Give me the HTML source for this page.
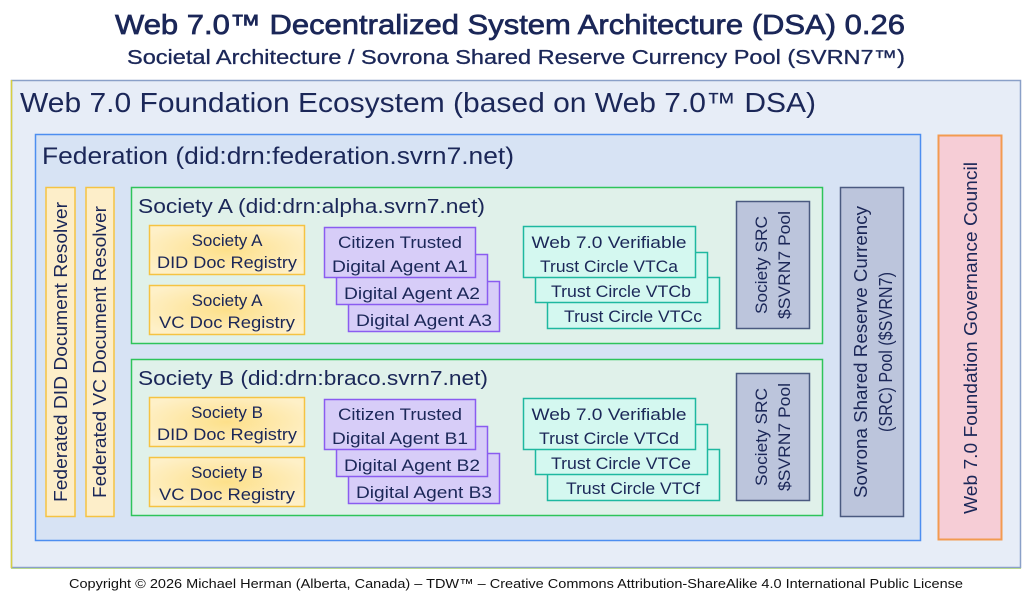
<!DOCTYPE html>
<html><head><meta charset="utf-8"><style>
html,body{margin:0;padding:0;background:#fff;width:1023px;height:601px;overflow:hidden}
svg{display:block}
text{font-family:"Liberation Sans",sans-serif;fill:#1b2758}
</style></head><body>
<svg width="1023" height="601" viewBox="0 0 1023 601" xmlns="http://www.w3.org/2000/svg">
<defs>
<radialGradient id="yg" cx="50%" cy="50%" r="60%"><stop offset="0" stop-color="#fde08a"/><stop offset="1" stop-color="#fef0c8"/></radialGradient>
</defs>
<text x="510" y="34" font-size="28" text-anchor="middle" textLength="790" lengthAdjust="spacingAndGlyphs" style="stroke:#1b2758;stroke-width:0.7">Web 7.0™ Decentralized System Architecture (DSA) 0.26</text>
<text x="516" y="64" font-size="20" text-anchor="middle" textLength="778" lengthAdjust="spacingAndGlyphs" style="stroke:#1b2758;stroke-width:0.3">Societal Architecture / Sovrona Shared Reserve Currency Pool (SVRN7™)</text>

<rect x="11.5" y="80.5" width="1009" height="487" fill="#e7edf7" stroke="#8aa0c8" stroke-width="1.5"/>
<line x1="11.5" y1="80" x2="11.5" y2="568" stroke="#d8d040" stroke-width="1.5"/>
<line x1="11" y1="568.5" x2="1021" y2="568.5" stroke="#b8d890" stroke-width="1"/>
<text x="20" y="112" font-size="28" textLength="796" lengthAdjust="spacingAndGlyphs">Web 7.0 Foundation Ecosystem (based on Web 7.0™ DSA)</text>

<rect x="35.5" y="134.5" width="885" height="406" fill="#d7e3f4" stroke="#4d8ef0" stroke-width="1.5"/>
<text x="42" y="164" font-size="24" textLength="472" lengthAdjust="spacingAndGlyphs">Federation (did:drn:federation.svrn7.net)</text>

<rect x="938.5" y="135.5" width="63" height="404" fill="#f6cdd6" stroke="#f39a50" stroke-width="2"/>
<text transform="translate(977,338) rotate(-90)" font-size="18" text-anchor="middle" textLength="352" lengthAdjust="spacingAndGlyphs">Web 7.0 Foundation Governance Council</text>

<rect x="840.5" y="187.5" width="63" height="329" fill="#bcc5dc" stroke="#4a5a80" stroke-width="1.5"/>
<text transform="translate(867,352) rotate(-90)" font-size="18" text-anchor="middle" textLength="292" lengthAdjust="spacingAndGlyphs">Sovrona Shared Reserve Currency</text>
<text transform="translate(892,352) rotate(-90)" font-size="18" text-anchor="middle" textLength="160" lengthAdjust="spacingAndGlyphs">(SRC) Pool ($SVRN7)</text>

<rect x="46" y="187.5" width="29" height="329" fill="#fdeec9" stroke="#f5c342" stroke-width="1.5"/>
<text transform="translate(67,352) rotate(-90)" font-size="18" text-anchor="middle" textLength="300" lengthAdjust="spacingAndGlyphs">Federated DID Document Resolver</text>
<rect x="86" y="187.5" width="28" height="329" fill="#fdeec9" stroke="#f5c342" stroke-width="1.5"/>
<text transform="translate(106,352) rotate(-90)" font-size="18" text-anchor="middle" textLength="292" lengthAdjust="spacingAndGlyphs">Federated VC Document Resolver</text>

<!-- Society A -->
<g>
<rect x="131.5" y="187.5" width="691" height="156" fill="#e0f1ea" stroke="#2ec45a" stroke-width="1.5"/>
<text x="138" y="213" font-size="20" textLength="347" lengthAdjust="spacingAndGlyphs">Society A (did:drn:alpha.svrn7.net)</text>
<rect x="149.5" y="225.5" width="155" height="49" fill="url(#yg)" stroke="#f5c342" stroke-width="1.5"/>
<text x="227" y="246" font-size="17" text-anchor="middle">Society A</text>
<text x="227" y="268" font-size="17" text-anchor="middle" textLength="140" lengthAdjust="spacingAndGlyphs">DID Doc Registry</text>
<rect x="149.5" y="285.5" width="155" height="49" fill="url(#yg)" stroke="#f5c342" stroke-width="1.5"/>
<text x="227" y="306" font-size="17" text-anchor="middle">Society A</text>
<text x="227" y="328" font-size="17" text-anchor="middle" textLength="136" lengthAdjust="spacingAndGlyphs">VC Doc Registry</text>

<rect x="348.5" y="281.5" width="151" height="50" fill="#d7cdf8" stroke="#8a5cf0" stroke-width="1.5"/>
<text x="424" y="326" font-size="17" text-anchor="middle" textLength="136" lengthAdjust="spacingAndGlyphs">Digital Agent A3</text>
<rect x="336.5" y="254.5" width="151" height="50" fill="#d7cdf8" stroke="#8a5cf0" stroke-width="1.5"/>
<text x="412" y="299" font-size="17" text-anchor="middle" textLength="136" lengthAdjust="spacingAndGlyphs">Digital Agent A2</text>
<rect x="324.5" y="227.5" width="151" height="50" fill="#d7cdf8" stroke="#8a5cf0" stroke-width="1.5"/>
<text x="400" y="248" font-size="17" text-anchor="middle" textLength="124" lengthAdjust="spacingAndGlyphs">Citizen Trusted</text>
<text x="400" y="272" font-size="17" text-anchor="middle" textLength="136" lengthAdjust="spacingAndGlyphs">Digital Agent A1</text>

<rect x="547.5" y="277.5" width="172" height="51" fill="#d4f8f0" stroke="#1eb8a0" stroke-width="1.5"/>
<text x="633" y="322" font-size="17" text-anchor="middle" textLength="138" lengthAdjust="spacingAndGlyphs">Trust Circle VTCc</text>
<rect x="535.5" y="252.5" width="172" height="50" fill="#d4f8f0" stroke="#1eb8a0" stroke-width="1.5"/>
<text x="621" y="297" font-size="17" text-anchor="middle" textLength="140" lengthAdjust="spacingAndGlyphs">Trust Circle VTCb</text>
<rect x="523.5" y="226.5" width="172" height="51" fill="#d4f8f0" stroke="#1eb8a0" stroke-width="1.5"/>
<text x="609" y="248" font-size="17" text-anchor="middle" textLength="155" lengthAdjust="spacingAndGlyphs">Web 7.0 Verifiable</text>
<text x="609" y="272" font-size="17" text-anchor="middle" textLength="138" lengthAdjust="spacingAndGlyphs">Trust Circle VTCa</text>

<rect x="736.5" y="201.5" width="73" height="127" fill="#bcc5dc" stroke="#4a5a80" stroke-width="1.5"/>
<text transform="translate(767,265) rotate(-90)" font-size="17" text-anchor="middle" textLength="98" lengthAdjust="spacingAndGlyphs">Society SRC</text>
<text transform="translate(790,265) rotate(-90)" font-size="17" text-anchor="middle" textLength="108" lengthAdjust="spacingAndGlyphs">$SVRN7 Pool</text>
</g>

<!-- Society B -->
<g transform="translate(0,172)">
<rect x="131.5" y="187.5" width="691" height="156" fill="#e0f1ea" stroke="#2ec45a" stroke-width="1.5"/>
<text x="138" y="213" font-size="20" textLength="350" lengthAdjust="spacingAndGlyphs">Society B (did:drn:braco.svrn7.net)</text>
<rect x="149.5" y="225.5" width="155" height="49" fill="url(#yg)" stroke="#f5c342" stroke-width="1.5"/>
<text x="227" y="246" font-size="17" text-anchor="middle">Society B</text>
<text x="227" y="268" font-size="17" text-anchor="middle" textLength="140" lengthAdjust="spacingAndGlyphs">DID Doc Registry</text>
<rect x="149.5" y="285.5" width="155" height="49" fill="url(#yg)" stroke="#f5c342" stroke-width="1.5"/>
<text x="227" y="306" font-size="17" text-anchor="middle">Society B</text>
<text x="227" y="328" font-size="17" text-anchor="middle" textLength="136" lengthAdjust="spacingAndGlyphs">VC Doc Registry</text>

<rect x="348.5" y="281.5" width="151" height="50" fill="#d7cdf8" stroke="#8a5cf0" stroke-width="1.5"/>
<text x="424" y="326" font-size="17" text-anchor="middle" textLength="136" lengthAdjust="spacingAndGlyphs">Digital Agent B3</text>
<rect x="336.5" y="254.5" width="151" height="50" fill="#d7cdf8" stroke="#8a5cf0" stroke-width="1.5"/>
<text x="412" y="299" font-size="17" text-anchor="middle" textLength="136" lengthAdjust="spacingAndGlyphs">Digital Agent B2</text>
<rect x="324.5" y="227.5" width="151" height="50" fill="#d7cdf8" stroke="#8a5cf0" stroke-width="1.5"/>
<text x="400" y="248" font-size="17" text-anchor="middle" textLength="124" lengthAdjust="spacingAndGlyphs">Citizen Trusted</text>
<text x="400" y="272" font-size="17" text-anchor="middle" textLength="136" lengthAdjust="spacingAndGlyphs">Digital Agent B1</text>

<rect x="547.5" y="277.5" width="172" height="51" fill="#d4f8f0" stroke="#1eb8a0" stroke-width="1.5"/>
<text x="633" y="322" font-size="17" text-anchor="middle" textLength="134" lengthAdjust="spacingAndGlyphs">Trust Circle VTCf</text>
<rect x="535.5" y="252.5" width="172" height="50" fill="#d4f8f0" stroke="#1eb8a0" stroke-width="1.5"/>
<text x="621" y="297" font-size="17" text-anchor="middle" textLength="140" lengthAdjust="spacingAndGlyphs">Trust Circle VTCe</text>
<rect x="523.5" y="226.5" width="172" height="51" fill="#d4f8f0" stroke="#1eb8a0" stroke-width="1.5"/>
<text x="609" y="248" font-size="17" text-anchor="middle" textLength="155" lengthAdjust="spacingAndGlyphs">Web 7.0 Verifiable</text>
<text x="609" y="272" font-size="17" text-anchor="middle" textLength="140" lengthAdjust="spacingAndGlyphs">Trust Circle VTCd</text>

<rect x="736.5" y="201.5" width="73" height="127" fill="#bcc5dc" stroke="#4a5a80" stroke-width="1.5"/>
<text transform="translate(767,265) rotate(-90)" font-size="17" text-anchor="middle" textLength="98" lengthAdjust="spacingAndGlyphs">Society SRC</text>
<text transform="translate(790,265) rotate(-90)" font-size="17" text-anchor="middle" textLength="108" lengthAdjust="spacingAndGlyphs">$SVRN7 Pool</text>
</g>

<text x="516" y="588" font-size="13" text-anchor="middle" style="fill:#111" textLength="894" lengthAdjust="spacingAndGlyphs">Copyright © 2026 Michael Herman (Alberta, Canada) – TDW™ – Creative Commons Attribution-ShareAlike 4.0 International Public License</text>
</svg>
</body></html>
